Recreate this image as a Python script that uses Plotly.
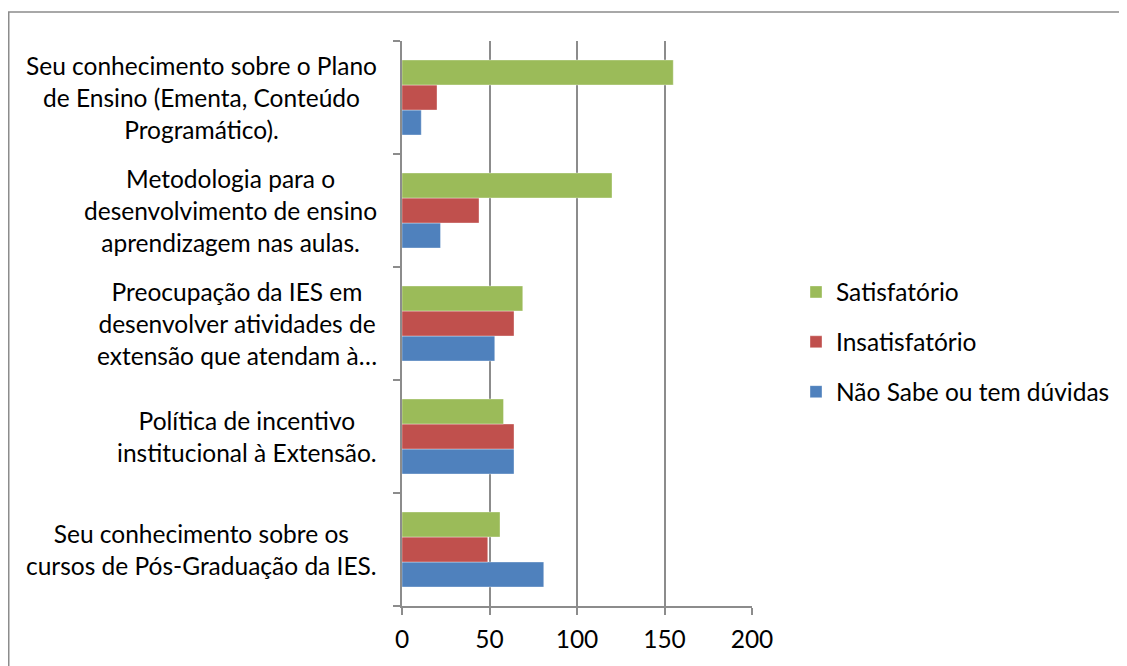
import plotly.graph_objects as go

categories = [
    "Seu conhecimento sobre o Plano<br>de Ensino (Ementa, Conteúdo<br>Programático).",
    "Metodologia para o<br>desenvolvimento de ensino<br>aprendizagem nas aulas.",
    "Preocupação da IES em<br>desenvolver atividades de<br>extensão que atendam à…",
    "Política de incentivo<br>institucional à Extensão.",
    "Seu conhecimento sobre os<br>cursos de Pós-Graduação da IES.",
]
series_names = ["Não Sabe ou tem dúvidas", "Insatisfatório", "Satisfatório"]
nao_sabe = [11, 22, 53, 64, 81]
insatisfatorio = [20, 44, 64, 64, 49]
satisfatorio = [155, 120, 69, 58, 56]
colors = ["#4F81BD", "#C0504D", "#9BBB59"]
legend_ranks = [3, 2, 1]
x_ticks = [0, 50, 100, 150, 200]

FONT = "Lato, Carlito, Calibri, sans-serif"
FS = 24.5

# the page body adds an 8 px offset; work in screen pixels and subtract it
OFF = 8
W, H = 1127 - OFF, 666 - OFF
L, R, T, B = 402 - OFF, 752 - OFF, 41 - OFF, 606 - OFF


def px_x(sx):
    return (sx - OFF - L) / (R - L)


def px_y(sy):
    return (B - (sy - OFF)) / (B - T)


fig = go.Figure()
for i, (name, vals) in enumerate(zip(series_names, [nao_sabe, insatisfatorio, satisfatorio])):
    fig.add_trace(go.Bar(
        y=categories, x=vals, name=name, orientation="h",
        marker=dict(color=colors[i], line=dict(color="rgba(255,255,255,0.6)", width=0.6)),
        legendgroup=name, legendrank=legend_ranks[i],
    ))

fig.update_layout(
    width=W, height=H,
    margin=dict(l=L, r=W - R, t=T, b=H - B),
    paper_bgcolor="white", plot_bgcolor="white",
    barmode="group", bargap=0.336, bargroupgap=0,
    font=dict(family=FONT, size=FS, color="#000000"),
    showlegend=True,
    legend=dict(
        x=px_x(796), xanchor="left",
        y=px_y(342), yanchor="middle",
        traceorder="grouped", tracegroupgap=15,
        font=dict(family=FONT, size=FS),
        bgcolor="rgba(0,0,0,0)",
    ),
    xaxis=dict(
        range=[0, 200], tickvals=x_ticks, ticktext=[str(v) for v in x_ticks],
        showgrid=True, gridcolor="#8c8c8c", gridwidth=1.5,
        showline=True, linecolor="#8c8c8c", linewidth=1.5,
        ticks="outside", ticklen=7, tickcolor="#8c8c8c", tickwidth=1.5,
        ticklabelstandoff=4,
        zeroline=False, tickfont=dict(family=FONT, size=FS),
    ),
    yaxis=dict(
        type="category", categoryorder="array", categoryarray=categories[::-1],
        showticklabels=False, tickson="boundaries",
        ticks="outside", ticklen=7, tickcolor="#8c8c8c", tickwidth=1.5,
        showline=True, linecolor="#8c8c8c", linewidth=1.5,
        showgrid=False, zeroline=False,
    ),
)

for c in categories:
    fig.add_annotation(
        x=px_x(379), xref="paper", y=c, yref="y",
        text=c, showarrow=False, xanchor="right", yanchor="middle",
        align="center", font=dict(family=FONT, size=FS, color="#000000"),
    )

# outer chart border (left edge clipped to the figure's own left edge)
fig.add_shape(
    type="rect", xref="paper", yref="paper",
    x0=px_x(OFF + 0.75), x1=px_x(1300),
    y0=px_y(760), y1=px_y(12),
    line=dict(color="#8c8c8c", width=1.5), fillcolor="rgba(0,0,0,0)", layer="below",
)

fig.write_html("out.html")
